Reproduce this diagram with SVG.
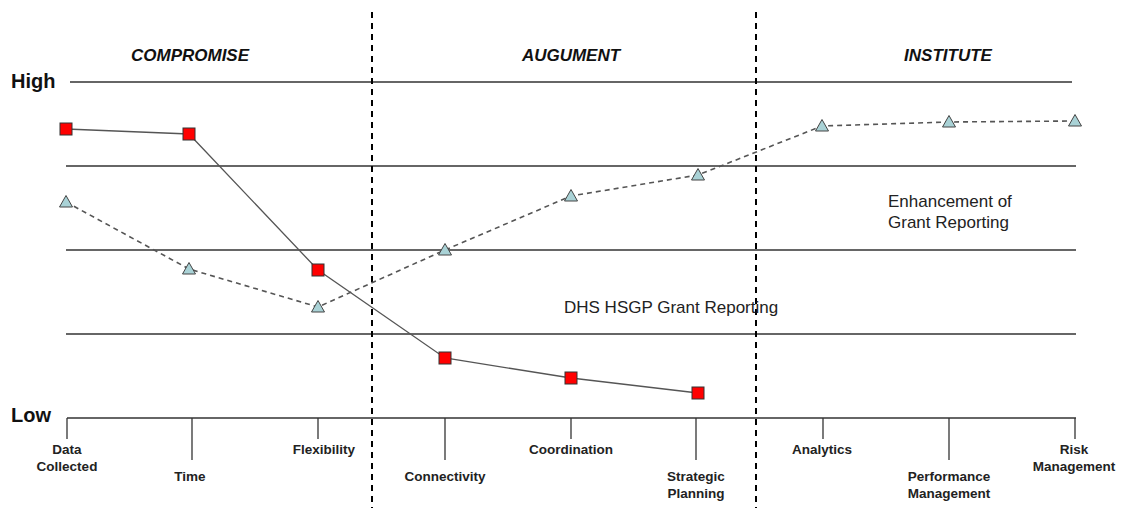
<svg xmlns="http://www.w3.org/2000/svg" xmlns:xlink="http://www.w3.org/1999/xlink" width="1122" height="508" viewBox="0 0 1122 508">
<style>
.grid{stroke:#333;stroke-width:1.3;fill:none}
.tick{stroke:#333;stroke-width:1.3}
.div{stroke:#000;stroke-width:2;stroke-dasharray:6 5}
.solid{stroke:#555;stroke-width:1.3;fill:none}
.dash{stroke:#555;stroke-width:1.6;fill:none;stroke-dasharray:5 4}
.sq{fill:#ff0000;stroke:#333;stroke-width:1}
.tri{fill:#a9d2d6;stroke:#444;stroke-width:1}
.ax{font-family:"Liberation Sans",Arial,sans-serif;font-size:13.5px;font-weight:bold;fill:#222;text-anchor:middle}
.hl{font-family:"Liberation Sans",Arial,sans-serif;font-size:20px;font-weight:bold;fill:#111}
.sec{font-family:"Liberation Sans",Arial,sans-serif;font-size:17px;font-weight:bold;font-style:italic;fill:#111;text-anchor:middle}
.note{font-family:"Liberation Sans",Arial,sans-serif;font-size:17px;fill:#222}
</style>
<defs>
<rect id="sqm" x="-6" y="-6" width="12" height="12" class="sq"/>
<polygon id="trim" points="0,-6.5 6.5,5 -6.5,5" class="tri"/>
</defs>
<rect width="1122" height="508" fill="#fff"/>
<g id="grid">
<line class="grid" x1="70" y1="82" x2="1072" y2="82"/>
<line class="grid" x1="66" y1="166" x2="1076" y2="166"/>
<line class="grid" x1="66" y1="250" x2="1076" y2="250"/>
<line class="grid" x1="66" y1="334" x2="1076" y2="334"/>
<line class="grid" x1="67" y1="418" x2="1076" y2="418"/>
<line class="tick" x1="67" y1="418" x2="67" y2="439"/>
<line class="tick" x1="192" y1="418" x2="192" y2="460"/>
<line class="tick" x1="318" y1="418" x2="318" y2="439"/>
<line class="tick" x1="445" y1="418" x2="445" y2="460"/>
<line class="tick" x1="571" y1="418" x2="571" y2="439"/>
<line class="tick" x1="696" y1="418" x2="696" y2="460"/>
<line class="tick" x1="823" y1="418" x2="823" y2="439"/>
<line class="tick" x1="949" y1="418" x2="949" y2="460"/>
<line class="tick" x1="1075" y1="418" x2="1075" y2="439"/>
<line class="div" x1="372" y1="12" x2="372" y2="508"/>
<line class="div" x1="756" y1="12" x2="756" y2="508"/>
</g>
<g id="labels">
<text class="hl" x="11" y="88">High</text>
<text class="hl" x="11" y="422">Low</text>
<text class="sec" x="190" y="61">COMPROMISE</text>
<text class="sec" x="571" y="61">AUGUMENT</text>
<text class="sec" x="948" y="61">INSTITUTE</text>
<text class="ax" x="67" y="454">Data</text>
<text class="ax" x="67" y="471">Collected</text>
<text class="ax" x="190" y="481">Time</text>
<text class="ax" x="324" y="454">Flexibility</text>
<text class="ax" x="445" y="481">Connectivity</text>
<text class="ax" x="571" y="454">Coordination</text>
<text class="ax" x="696" y="481">Strategic</text>
<text class="ax" x="696" y="498">Planning</text>
<text class="ax" x="822" y="454">Analytics</text>
<text class="ax" x="949" y="481">Performance</text>
<text class="ax" x="949" y="498">Management</text>
<text class="ax" x="1074" y="454">Risk</text>
<text class="ax" x="1074" y="471">Management</text>
<text class="note" x="564" y="313">DHS HSGP Grant Reporting</text>
<text class="note" x="888" y="207">Enhancement of</text>
<text class="note" x="888" y="228">Grant Reporting</text>
</g>
<g id="connectors">
<polyline class="solid" points="66,129 189,134 318,270 445,358 571,378 698,393"/>
<polyline class="dash" points="66,202 189,269 318,307 445,250 571,196 698,175 822,126 949,122 1075,121"/>
</g>
<g id="hsgp-data-collected"><use xlink:href="#sqm" x="66" y="129"/></g>
<g id="hsgp-time"><use xlink:href="#sqm" x="189" y="134"/></g>
<g id="hsgp-flexibility"><use xlink:href="#sqm" x="318" y="270"/></g>
<g id="hsgp-connectivity"><use xlink:href="#sqm" x="445" y="358"/></g>
<g id="hsgp-coordination"><use xlink:href="#sqm" x="571" y="378"/></g>
<g id="hsgp-strategic"><use xlink:href="#sqm" x="698" y="393"/></g>
<g id="enh-data-collected"><use xlink:href="#trim" x="66" y="202"/></g>
<g id="enh-time"><use xlink:href="#trim" x="189" y="269"/></g>
<g id="enh-flexibility"><use xlink:href="#trim" x="318" y="307"/></g>
<g id="enh-connectivity"><use xlink:href="#trim" x="445" y="250"/></g>
<g id="enh-coordination"><use xlink:href="#trim" x="571" y="196"/></g>
<g id="enh-strategic"><use xlink:href="#trim" x="698" y="175"/></g>
<g id="enh-analytics"><use xlink:href="#trim" x="822" y="126"/></g>
<g id="enh-performance"><use xlink:href="#trim" x="949" y="122"/></g>
<g id="enh-risk"><use xlink:href="#trim" x="1075" y="121"/></g>
</svg>
